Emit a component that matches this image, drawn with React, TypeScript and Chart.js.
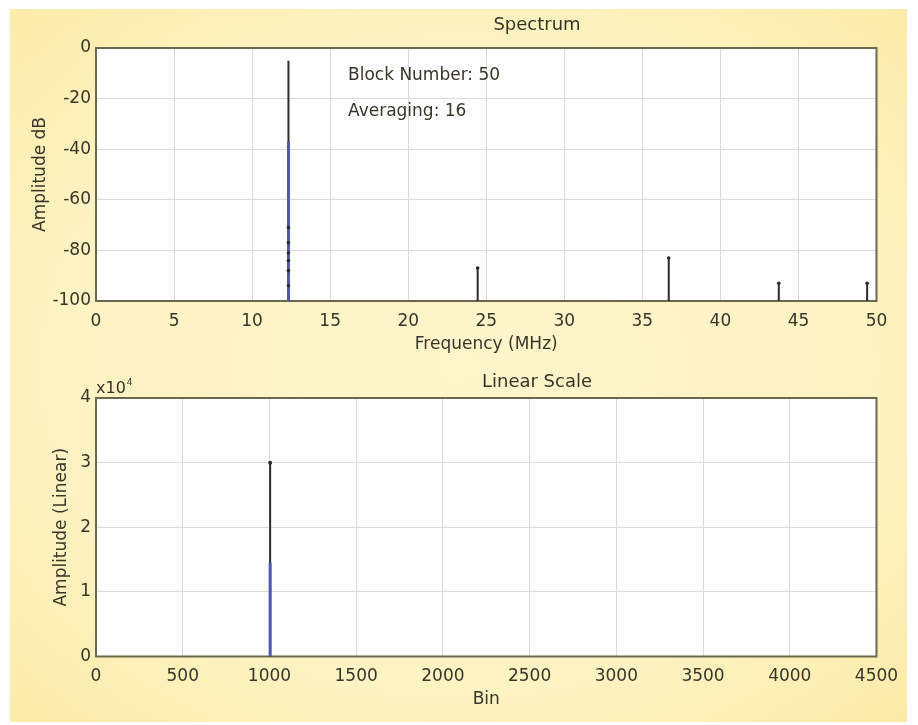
import React, { useEffect, useRef } from "react";
import { Chart, registerables } from "chart.js";

Chart.register(...registerables);

// ---------- data ----------
const specTitle = "Spectrum";
const specXLabel = "Frequency (MHz)";
const specYLabel = "Amplitude dB";
const specNotes = ["Block Number: 50", "Averaging: 16"];
const specFloor = -100;
const specFreqs = [12.33, 24.45, 36.69, 43.74, 49.4];
const specPeaks = [-5, -87, -83, -93, -93];
const specBlueFreqs = [12.33];
const specBlueTops = [-37];
const specMarkFreqs = [12.33, 12.33, 12.33, 12.33, 12.33, 12.33, 24.45, 36.69, 43.74, 49.4];
const specMarkLevels = [-71, -77, -81, -84, -88, -94, -87, -83, -93, -93];

const linTitle = "Linear Scale";
const linXLabel = "Bin";
const linYLabel = "Amplitude (Linear)";
const linScaleBase = "x10";
const linScaleExp = "4";
const linFactor = 10000;
const linBins = [1004];
const linPeaks = [30000];
const linBlueBins = [1004];
const linBlueTops = [14500];

// ---------- style ----------
const FONT = "'DejaVu Sans', 'Liberation Sans', sans-serif";
const TEXT = "#38352a";
const GRID = "#d8dae1";
const FRAME = "#6c684e";
const BLACK = "#2b2b2b";
const BLUE = "#5058ae";

function spikes(xs: number[], tops: number[], floor: number) {
  const out: { x: number; y: number | null }[] = [];
  xs.forEach((x, i) => {
    out.push({ x, y: floor }, { x, y: tops[i] }, { x, y: null });
  });
  return out;
}

const framePlugin = {
  id: "frame",
  beforeDraw(chart: any) {
    const { ctx, chartArea: a } = chart;
    ctx.save();
    ctx.fillStyle = "#ffffff";
    ctx.fillRect(a.left, a.top, a.right - a.left, a.bottom - a.top);
    ctx.restore();
  },
  beforeDatasetsDraw(chart: any) {
    const { ctx, chartArea: a } = chart;
    ctx.save();
    ctx.strokeStyle = FRAME;
    ctx.lineWidth = 2;
    ctx.strokeRect(a.left, a.top, a.right - a.left, a.bottom - a.top);
    ctx.restore();
  },
};

function titlePlugin(text: string, x: number, y: number) {
  return {
    id: "customTitle",
    afterDraw(chart: any) {
      const ctx = chart.ctx;
      ctx.save();
      ctx.fillStyle = TEXT;
      ctx.font = `18px ${FONT}`;
      ctx.textAlign = "center";
      ctx.textBaseline = "middle";
      ctx.fillText(text, x, y);
      ctx.restore();
    },
  };
}

function makeScales(
  xMin: number, xMax: number, xStep: number, xLabel: string, xH: number, xTitlePadB: number,
  yMin: number, yMax: number, yStep: number, yLabel: string, yTitlePadT: number,
  yFmt: (v: number) => string
) {
  const tickFont = { family: FONT, size: 17 };
  return {
    x: {
      type: "linear",
      min: xMin,
      max: xMax,
      afterFit(s: any) { s.height = xH; s.paddingLeft = 0; s.paddingRight = 0; },
      border: { display: false },
      grid: { color: GRID, drawTicks: false, lineWidth: 1 },
      ticks: {
        stepSize: xStep, autoSkip: false, maxRotation: 0, padding: 10, color: TEXT, font: tickFont,
        callback: (v: any) => String(v),
      },
      title: { display: true, text: xLabel, color: TEXT, font: tickFont, padding: { top: 0, bottom: xTitlePadB } },
    },
    y: {
      type: "linear",
      min: yMin,
      max: yMax,
      afterFit(s: any) { s.width = 86; s.paddingTop = 0; s.paddingBottom = 0; },
      border: { display: false },
      grid: { color: GRID, drawTicks: false, lineWidth: 1 },
      ticks: { stepSize: yStep, autoSkip: false, padding: 5, color: TEXT, font: tickFont, callback: (v: any) => yFmt(Number(v)) },
      title: { display: true, text: yLabel, color: TEXT, font: tickFont, padding: { top: yTitlePadT, bottom: 0 } },
    },
  };
}

function SpectrumChart() {
  const ref = useRef<HTMLCanvasElement>(null);
  useEffect(() => {
    const notes = {
      id: "notes",
      afterDraw(chart: any) {
        const ctx = chart.ctx;
        ctx.save();
        ctx.fillStyle = TEXT;
        ctx.font = `17px ${FONT}`;
        ctx.textBaseline = "alphabetic";
        ctx.textAlign = "left";
        ctx.fillText(specNotes[0], 338, 71);
        ctx.fillText(specNotes[1], 338, 107);
        ctx.restore();
      },
    };
    const chart = new Chart(ref.current!, {
      type: "line",
      data: {
        datasets: [
          {
            data: specMarkFreqs.map((x, i) => ({ x, y: specMarkLevels[i] })),
            showLine: false, pointRadius: 1.8, pointBackgroundColor: BLACK, pointBorderWidth: 0,
          },
          {
            data: spikes(specBlueFreqs, specBlueTops, specFloor),
            borderColor: BLUE, borderWidth: 3, pointRadius: 0, spanGaps: false, tension: 0,
          },
          {
            data: spikes(specFreqs, specPeaks, specFloor),
            borderColor: BLACK, borderWidth: 2, pointRadius: 0, spanGaps: false, tension: 0,
          },
        ],
      } as any,
      options: {
        responsive: false,
        animation: false,
        events: [],
        layout: { padding: { left: 0, right: 30.5, top: 39, bottom: 0 } },
        plugins: {
          legend: { display: false },
          tooltip: { enabled: false },
          title: { display: false },
        },
        scales: makeScales(0, 50, 5, specXLabel, 60, 5.8, -100, 0, 20, specYLabel, 20.8, (v) => String(v)) as any,
      },
      plugins: [framePlugin, notes, titlePlugin(specTitle, 527, 16)],
    });
    return () => chart.destroy();
  }, []);
  return (
    <canvas ref={ref} width={897} height={352}
      style={{ position: "absolute", left: 0, top: 0, width: 897, height: 352 }} />
  );
}

function LinearChart() {
  const ref = useRef<HTMLCanvasElement>(null);
  useEffect(() => {
    const exp = {
      id: "exp",
      afterDraw(chart: any) {
        const ctx = chart.ctx;
        const a = chart.chartArea;
        ctx.save();
        ctx.fillStyle = TEXT;
        ctx.textAlign = "left";
        ctx.textBaseline = "alphabetic";
        ctx.font = `16px ${FONT}`;
        const x0 = a.left;
        const y0 = a.top - 5;
        ctx.fillText(linScaleBase, x0, y0);
        const w = ctx.measureText(linScaleBase).width;
        ctx.font = `9px ${FONT}`;
        ctx.fillText(linScaleExp, x0 + w + 1, y0 - 8);
        ctx.restore();
      },
    };
    const chart = new Chart(ref.current!, {
      type: "line",
      data: {
        datasets: [
          {
            data: linBins.map((x, i) => ({ x, y: linPeaks[i] })),
            showLine: false, pointRadius: 2, pointBackgroundColor: BLACK, pointBorderWidth: 0,
          },
          {
            data: spikes(linBlueBins, linBlueTops, 0),
            borderColor: BLUE, borderWidth: 3, pointRadius: 0, spanGaps: false, tension: 0,
          },
          {
            data: spikes(linBins, linPeaks, 0),
            borderColor: BLACK, borderWidth: 2, pointRadius: 0, spanGaps: false, tension: 0,
          },
        ],
      } as any,
      options: {
        responsive: false,
        animation: false,
        events: [],
        layout: { padding: { left: 0, right: 30.5, top: 37, bottom: 0 } },
        plugins: {
          legend: { display: false },
          tooltip: { enabled: false },
          title: { display: false },
        },
        scales: makeScales(0, 4500, 500, linXLabel, 65.5, 11.8, 0, 40000, 10000, linYLabel, 41.8,
          (v) => String(Math.round(v / linFactor))) as any,
      },
      plugins: [framePlugin, exp, titlePlugin(linTitle, 527, 21)],
    });
    return () => chart.destroy();
  }, []);
  return (
    <canvas ref={ref} width={897} height={361}
      style={{ position: "absolute", left: 0, top: 352, width: 897, height: 361 }} />
  );
}

export default function App() {
  return (
    <div style={{ position: "absolute", left: 0, top: 0, width: 918, height: 725, background: "#ffffff", overflow: "hidden" }}>
      <div
        style={{
          position: "absolute", left: 10, top: 9, width: 897, height: 713,
          background: "radial-gradient(ellipse at center, #fef5cc 0%, #fdf2c2 65%, #fbeba8 100%)",
        }}
      >
        <SpectrumChart />
        <LinearChart />
      </div>
    </div>
  );
}
